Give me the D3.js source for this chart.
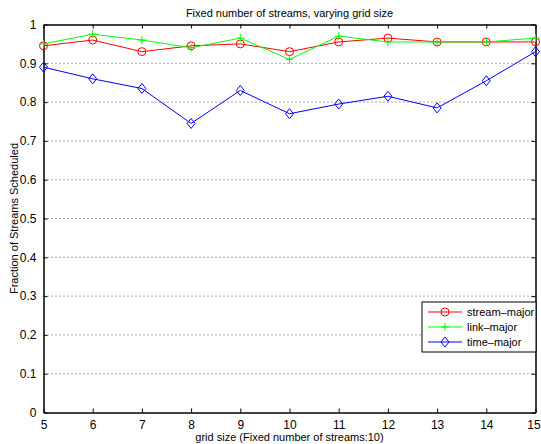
<!DOCTYPE html>
<html>
<head>
<meta charset="utf-8">
<script src="https://cdnjs.cloudflare.com/ajax/libs/d3/7.8.5/d3.min.js"></script>
<style>
  body { margin: 0; background: #fff; }
  text { font-family: "Liberation Sans", Arial, sans-serif; }
</style>
</head>
<body>
<script>
// Size and margins
var w = 541;
var h = 444;
var margin = { top: 24.5, right: 5.5, bottom: 31.5, left: 43.5 };

// Data
var gridSizes = [5, 6, 7, 8, 9, 10, 11, 12, 13, 14, 15];
var streamMajor = [0.945, 0.96, 0.93, 0.945, 0.95, 0.93, 0.955, 0.965, 0.955, 0.955, 0.955];
var linkMajor = [0.95, 0.975, 0.96, 0.94, 0.965, 0.91, 0.97, 0.955, 0.955, 0.955, 0.965];
var timeMajor = [0.89, 0.86, 0.835, 0.745, 0.83, 0.77, 0.795, 0.815, 0.785, 0.855, 0.93];
var yTicks = [0, 0.1, 0.2, 0.3, 0.4, 0.5, 0.6, 0.7, 0.8, 0.9, 1];
var yTickLabels = ["0", "0.1", "0.2", "0.3", "0.4", "0.5", "0.6", "0.7", "0.8", "0.9", "1"];

var series = [
  { name: "stream-major", values: streamMajor, color: "#ff0000", marker: "circle" },
  { name: "link-major", values: linkMajor, color: "#00ff00", marker: "plus" },
  { name: "time-major", values: timeMajor, color: "#0000ff", marker: "diamond" }
];

// Scales
var xScale = d3.scaleLinear()
               .domain([5, 15])
               .range([margin.left, w - margin.right]);

var yScale = d3.scaleLinear()
               .domain([0, 1])
               .range([h - margin.bottom, margin.top]);

var svg = d3.select("body")
            .append("svg")
            .attr("width", w)
            .attr("height", h);

// Horizontal dotted grid
svg.selectAll("line.grid")
   .data(yTicks.slice(1, -1))
   .enter()
   .append("line")
   .attr("class", "grid")
   .attr("x1", xScale(5))
   .attr("x2", xScale(15))
   .attr("y1", function(d) { return yScale(d); })
   .attr("y2", function(d) { return yScale(d); })
   .attr("stroke", "#555")
   .attr("stroke-width", 1)
   .attr("stroke-dasharray", "1,3");

// Axes (ticks point inward, MATLAB style)
var xAxisBottom = d3.axisBottom(xScale).tickValues(gridSizes).tickSizeInner(-4).tickSizeOuter(0).tickPadding(8);
var xAxisTop = d3.axisTop(xScale).tickValues(gridSizes).tickSizeInner(-4).tickSizeOuter(0).tickFormat("");
var yAxisLeft = d3.axisLeft(yScale).tickValues(yTicks).tickSizeInner(-4).tickSizeOuter(0).tickPadding(7)
                  .tickFormat(function(d, i) { return yTickLabels[i]; });
var yAxisRight = d3.axisRight(yScale).tickValues(yTicks).tickSizeInner(-4).tickSizeOuter(0).tickFormat("");

function styleAxis(g) {
  g.select(".domain").attr("stroke", "#000").attr("stroke-width", 1.5);
  g.selectAll(".tick line").attr("stroke", "#000");
  g.selectAll(".tick text").attr("font-size", "12px").attr("fill", "#000")
   .attr("font-family", "'Liberation Sans', Arial, sans-serif");
}

var gx = svg.append("g").attr("transform", "translate(0," + (h - margin.bottom) + ")").call(xAxisBottom).call(styleAxis);
// keep the last label inside the window
gx.selectAll(".tick text").filter(function(d) { return d === 15; }).attr("dx", "-2");
svg.append("g").attr("transform", "translate(0," + margin.top + ")").call(xAxisTop).call(styleAxis);
svg.append("g").attr("transform", "translate(" + margin.left + ",0)").call(yAxisLeft).call(styleAxis);
svg.append("g").attr("transform", "translate(" + (w - margin.right) + ",0)").call(yAxisRight).call(styleAxis);

// Markers
function drawMarker(g, type, color) {
  if (type === "circle") {
    g.append("circle").attr("r", 4).attr("fill", "none").attr("stroke", color).attr("stroke-width", 1);
  } else if (type === "plus") {
    g.append("path").attr("d", "M-4,0H4M0,-4V4").attr("stroke", color).attr("stroke-width", 1);
  } else {
    g.append("path").attr("d", "M0,-5L4,0L0,5L-4,0Z").attr("fill", "none").attr("stroke", color).attr("stroke-width", 1);
  }
}

var line = d3.line()
             .x(function(d, i) { return xScale(gridSizes[i]); })
             .y(function(d) { return yScale(d); });

series.forEach(function(s) {
  svg.append("path")
     .datum(s.values)
     .attr("d", line)
     .attr("fill", "none")
     .attr("stroke", s.color)
     .attr("stroke-width", 1);

  svg.selectAll(null)
     .data(s.values)
     .enter()
     .append("g")
     .attr("transform", function(d, i) {
       return "translate(" + xScale(gridSizes[i]) + "," + yScale(d) + ")";
     })
     .each(function() { drawMarker(d3.select(this), s.marker, s.color); });
});

// Title and axis labels
svg.append("text")
   .attr("x", (xScale(5) + xScale(15)) / 2)
   .attr("y", 17)
   .attr("text-anchor", "middle")
   .attr("font-size", "11px")
   .text("Fixed number of streams, varying grid size");

svg.append("text")
   .attr("x", (xScale(5) + xScale(15)) / 2)
   .attr("y", 441)
   .attr("text-anchor", "middle")
   .attr("font-size", "11px")
   .text("grid size (Fixed number of streams:10)");

svg.append("text")
   .attr("transform", "translate(18," + (yScale(0.5)) + ") rotate(-90)")
   .attr("text-anchor", "middle")
   .attr("font-size", "11px")
   .text("Fraction of Streams Scheduled");

// Legend
var legend = svg.append("g").attr("transform", "translate(422,302)");
legend.append("rect")
      .attr("width", 114)
      .attr("height", 50)
      .attr("fill", "#fff")
      .attr("stroke", "#000")
      .attr("stroke-width", 1);

series.forEach(function(s, i) {
  var row = legend.append("g").attr("transform", "translate(0," + (10 + i * 15) + ")");
  row.append("line")
     .attr("x1", 6).attr("x2", 40)
     .attr("stroke", s.color).attr("stroke-width", 1);
  var m = row.append("g").attr("transform", "translate(23,0)");
  drawMarker(m, s.marker, s.color);
  row.append("text")
     .attr("x", 45)
     .attr("y", 4)
     .attr("font-size", "11px")
     .text(s.name.replace("-", "\u2013"));
});
</script>
</body>
</html>
